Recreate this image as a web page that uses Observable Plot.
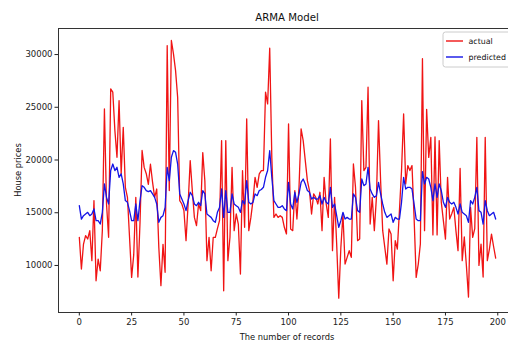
<!DOCTYPE html>
<html><head><meta charset="utf-8">
<script src="https://cdn.jsdelivr.net/npm/d3@7"></script>
<script src="https://cdn.jsdelivr.net/npm/@observablehq/plot@0.6"></script>
<style>
html,body{margin:0;padding:0;overflow:hidden;background:#fff;width:508px;height:341px}
#chart svg{display:block;max-width:none !important;width:530px !important;height:341px !important}
</style>
</head><body><div id="chart"></div>
<script>
const titleText = "ARMA Model";
const xLabel = "The number of records";
const yLabel = "House prices";
const seriesNames = ["actual", "predicted"];
const xTicks = [0, 25, 50, 75, 100, 125, 150, 175, 200];
const yTicks = [10000, 15000, 20000, 25000, 30000];

const actual = [
12670, 9660, 12030, 12830, 12510, 13300, 10450, 16150, 8550, 10610,
9500, 13300, 24840, 15830, 12670, 26740, 26430, 22790, 20260, 25640,
18680, 23100, 17410, 16460, 12670, 8870, 11000, 16460, 8900, 14000,
20900, 19300, 18700, 17700, 19600, 17900, 16460, 17250, 11700, 8080,
12000, 9350, 30850, 17100, 31330, 30060, 28480, 25950, 16150, 15830,
15200, 12350, 15830, 19940, 17100, 14560, 13770, 15830, 15200, 20700,
18040, 10450, 12670, 9500, 12670, 12670, 13500, 14250, 21840, 7600,
21840, 10450, 12670, 19300, 13300, 14880, 13930, 9190, 19000, 13620,
23900, 13300, 14560, 16150, 18360, 17410, 18680, 19000, 19000, 26430,
25320, 30600, 20260, 14560, 14880, 14560, 14720, 14560, 13620, 12990,
23420, 13460, 13300, 17100, 14400, 17410, 22950, 21840, 19940, 18040,
17100, 14880, 16780, 16460, 15830, 16940, 13300, 18360, 15830, 14560,
22000, 11400, 16460, 12030, 6900, 11710, 14880, 10130, 10770, 11400,
10770, 19620, 17410, 12350, 12500, 25640, 19000, 19300, 26900, 13930,
16460, 13300, 16460, 23740, 18040, 13300, 11710, 10130, 13460, 12990,
8550, 12350, 11560, 15200, 19000, 24370, 17730, 19470, 19000, 19470,
14560, 8870, 10130, 12030, 29600, 13300, 24800, 20250, 22150, 12900,
22200, 12900, 21840, 16000, 14250, 12500, 18360, 14400, 14900, 15510,
13300, 11400, 19200, 10450, 12700, 10000, 7000, 15500, 12660, 13500,
22150, 10000, 12030, 8900, 22150, 10450, 11550, 12980, 11800, 10700
];

const predicted = [
15670, 14400, 14720, 14880, 15040, 14720, 14880, 15360, 14250, 14250,
13930, 15040, 17730, 16460, 15830, 19000, 19620, 19000, 19310, 18360,
18680, 17730, 16150, 15990, 15200, 14250, 14250, 15830, 14250, 16150,
17570, 17410, 17100, 17000, 17100, 16780, 16460, 15830, 14090, 14560,
14720, 15500, 19310, 18040, 20260, 20890, 20730, 19620, 16780, 16300,
15830, 15200, 16150, 16940, 16620, 15830, 15670, 15990, 15670, 17100,
16780, 14880, 14720, 14560, 14250, 14090, 15040, 15500, 17250, 14560,
17100, 15040, 15040, 16780, 15830, 15670, 15510, 15040, 16150, 15830,
18040, 15990, 15830, 15990, 16780, 16620, 17100, 17200, 17410, 18360,
19000, 20890, 18360, 16150, 15830, 15510, 15510, 15670, 15360, 15200,
17880, 15830, 15360, 16940, 15990, 16780, 17880, 18200, 17730, 17100,
16940, 16300, 16460, 16300, 16300, 16620, 15830, 16460, 15990, 15830,
17410, 15510, 15830, 14720, 13620, 14250, 15040, 14400, 14560, 14400,
14400, 16780, 16460, 15200, 15040, 18200, 17570, 17730, 19310, 17250,
16780, 16460, 16620, 17880, 16780, 15830, 15040, 14560, 14720, 14880,
14090, 14560, 14400, 14400, 15990, 18360, 17250, 17410, 17410, 17250,
15830, 14400, 14250, 14250, 18900, 17730, 18360, 18200, 17410, 16150,
17730, 16460, 17730, 17100, 15990, 15510, 16460, 15990, 15830, 15990,
15510, 14880, 15830, 15040, 14880, 14720, 14090, 16150, 15830, 16460,
17410, 15200, 15040, 13930, 16150, 15200, 14720, 14880, 15040, 14400
];

const W = 530, H = 341;
const mL = 58, mR = 14, mT = 28, mB = 29;
const fmt = d3.format("d");
const colors = ["#f01414", "#1414e6"];

const chart = Plot.plot({
  width: W, height: H,
  marginLeft: mL, marginRight: mR, marginTop: mT, marginBottom: mB,
  style: {fontFamily: "'DejaVu Sans', sans-serif", fontSize: "8.5px", color: "#222", background: "#fff", maxWidth: "none"},
  x: {domain: [-9.95, 208.95]},
  y: {domain: [5540, 32470]},
  marks: [
    Plot.lineY(actual, {x: (d, i) => i, y: d => d, stroke: colors[0], strokeWidth: 1.3}),
    Plot.lineY(predicted, {x: (d, i) => i, y: d => d, stroke: colors[1], strokeWidth: 1.3}),
    Plot.frame({stroke: "#333", strokeWidth: 1}),
    Plot.axisX({ticks: xTicks, tickFormat: fmt, tickSize: 3.5, tickPadding: 2.5, label: null}),
    Plot.axisY({ticks: yTicks, tickFormat: fmt, tickSize: 3.5, tickPadding: 2.5, label: null})
  ]
});
document.getElementById("chart").appendChild(chart);

const svg = d3.select(chart);
const plotCx = mL + (W - mL - mR) / 2;
svg.append("text").text(titleText)
  .attr("x", plotCx).attr("y", 20.5).attr("text-anchor", "middle")
  .attr("font-size", "10.2px").attr("fill", "#111");
svg.append("text").text(xLabel)
  .attr("x", plotCx).attr("y", 339.5).attr("text-anchor", "middle")
  .attr("font-size", "8.3px").attr("fill", "#111");
svg.append("text").text(yLabel)
  .attr("transform", `translate(21,${mT + (H - mT - mB) / 2}) rotate(-90)`)
  .attr("text-anchor", "middle")
  .attr("font-size", "8.3px").attr("fill", "#111");

// legend
const lg = svg.append("g").attr("text-anchor", "start");
lg.append("rect").attr("x", 443).attr("y", 32).attr("width", 80).attr("height", 35)
  .attr("rx", 2.5).attr("fill", "#fff").attr("fill-opacity", 0.85)
  .attr("stroke", "#ccc").attr("stroke-width", 1);
seriesNames.forEach((name, k) => {
  const yy = 41 + k * 16;
  lg.append("line").attr("x1", 446).attr("x2", 463).attr("y1", yy).attr("y2", yy)
    .attr("stroke", colors[k]).attr("stroke-width", 1.4);
  lg.append("text").text(name).attr("x", 468.5).attr("y", yy + 3)
    .attr("text-anchor", "start")
    .attr("font-size", "7.9px").attr("fill", "#111");
});
</script>
</body></html>
